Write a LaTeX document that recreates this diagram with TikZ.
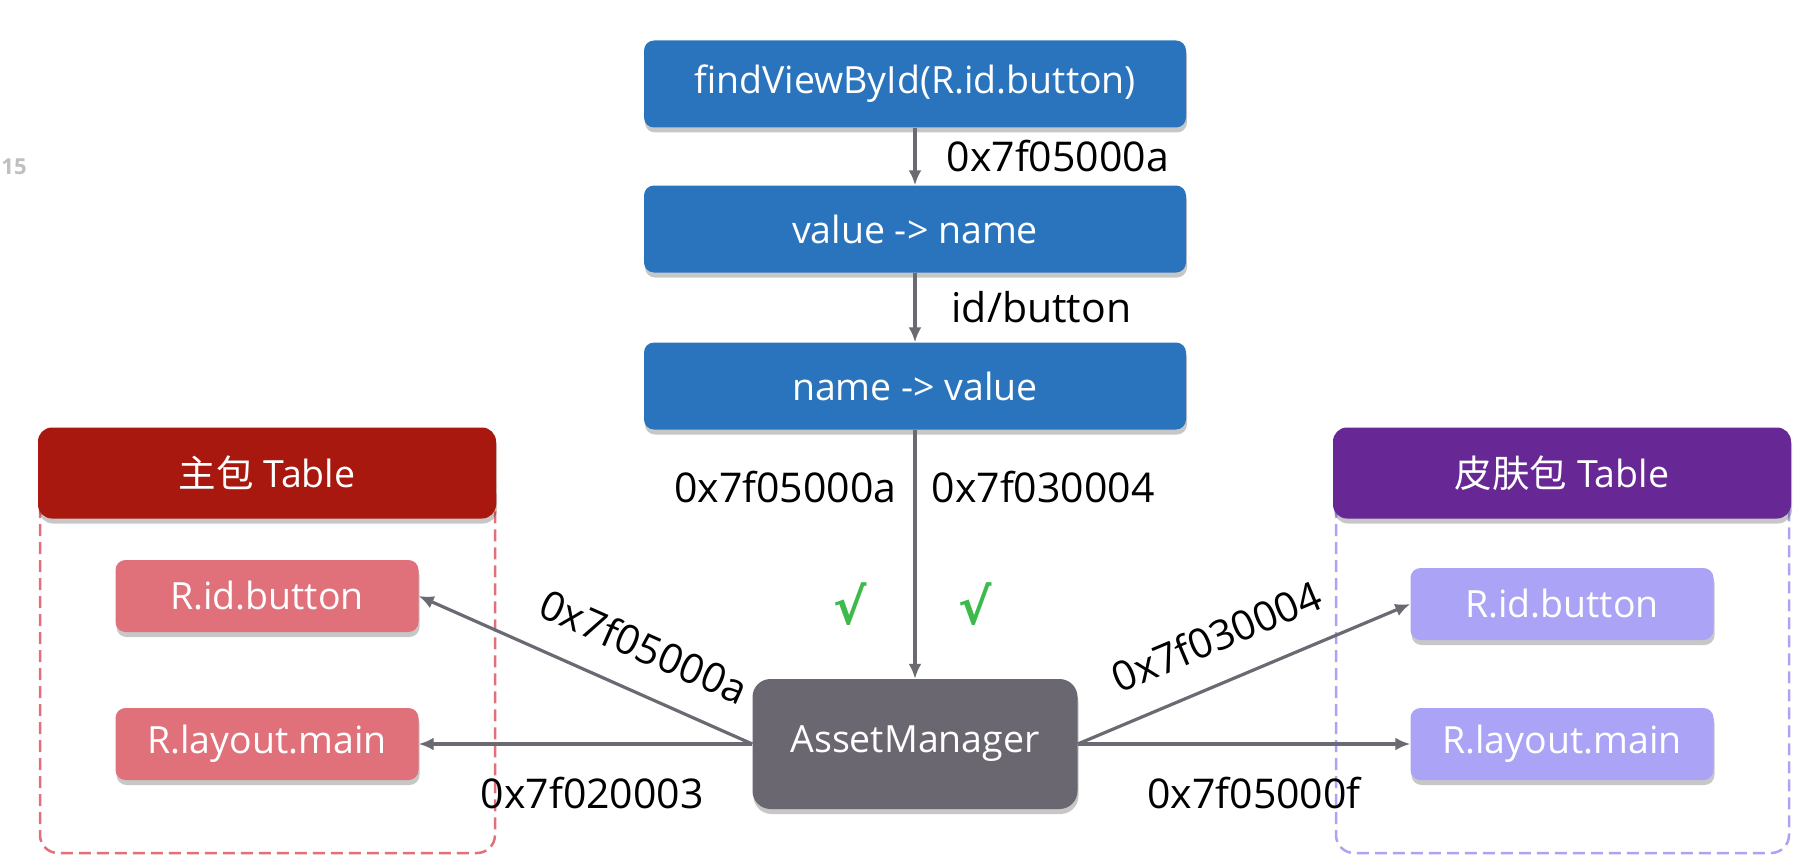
\documentclass[tikz,border=0pt]{standalone}
\usepackage{fontspec}
\setmainfont{Open Sans}
\newfontfamily\cjk{Noto Sans CJK SC}
\newfontfamily\symfont{DejaVu Sans}
\usetikzlibrary{arrows.meta,positioning,shadows}
\definecolor{FlowBlue}{HTML}{2A74BE}
\definecolor{MainRed}{HTML}{A8180F}
\definecolor{MainPink}{HTML}{E0707A}
\definecolor{SkinPurple}{HTML}{672795}
\definecolor{SkinLilac}{HTML}{ABA4F6}
\definecolor{MgrGray}{HTML}{6A6771}
\definecolor{LineGray}{HTML}{696A72}
\definecolor{CheckGreen}{HTML}{3DBA4B}

\tikzset{
  bigtext/.style={font=\fontsize{37.5}{44}\selectfont},
  tagbox/.style={bigtext, text=white, rounded corners=10pt, inner sep=4pt,
    drop shadow={shadow xshift=1pt, shadow yshift=-5pt, opacity=.22, fill=black}},
  flowbox/.style={tagbox, fill=FlowBlue, minimum width=542pt, minimum height=87pt},
  headbox/.style={tagbox, rounded corners=14pt, minimum width=458pt, minimum height=91pt},
  itembox/.style={tagbox, minimum width=303pt, minimum height=72pt},
  mgrbox/.style={tagbox, fill=MgrGray, rounded corners=18pt, minimum width=325pt, minimum height=130pt},
  frame/.style={line width=2.5pt, rounded corners=18pt, dash pattern=on 12pt off 6pt},
  arrowline/.style={draw=LineGray, line width=3.2pt, -{Latex[length=15pt,width=13pt]}},
  hexlabel/.style={font=\fontsize{41}{48}\selectfont, text=black, inner sep=4pt},
  checkmark/.style={text=CheckGreen, font=\symfont\bfseries\fontsize{50}{56}\selectfont},
}

\begin{document}
\begin{tikzpicture}[x=1pt,y=-1pt]
  \useasboundingbox (0,0) rectangle (1814,864);
  \node[text=black!25, font=\bfseries\fontsize{22}{26}\selectfont] (slideno) at (14,167) {15};

  % lookup chain
  \node[flowbox] (find) at (915,84) {findViewById(R.id.button)};
  \node[flowbox] (v2n) at (915,229) {value -> name};
  \node[flowbox] (n2v) at (915,386) {name -> value};
  \node[mgrbox] (mgr) at (915,744) {AssetManager};

  % main package
  \draw[frame, MainPink] (40,470) rectangle (495,853);
  \node[headbox, fill=MainRed] (mainhead) at (267,473) {{\cjk 主包} Table};
  \node[itembox, fill=MainPink] (mainid) at (267,596) {R.id.button};
  \node[itembox, fill=MainPink] (mainlayout) at (267,744) {R.layout.main};

  % skin package
  \draw[frame, SkinLilac] (1336,470) rectangle (1789,853);
  \node[headbox, fill=SkinPurple] (skinhead) at (1562,473) {{\cjk 皮肤包} Table};
  \node[itembox, fill=SkinLilac] (skinid) at (1562,604) {R.id.button};
  \node[itembox, fill=SkinLilac] (skinlayout) at (1562,744) {R.layout.main};

  \draw[arrowline] (find) -- (v2n) node[hexlabel, midway, right=26pt] (hexa) {0x7f05000a};
  \draw[arrowline] (v2n) -- (n2v) node[hexlabel, midway, right=31pt] (idname) {id/button};
  \draw[arrowline] (n2v) -- (mgr)
    node[hexlabel, pos=.23, left=13pt] (hexb) {0x7f05000a}
    node[hexlabel, pos=.23, right=11pt] (hexc) {0x7f030004};
  \node[checkmark] (chkl) at (850,604) {√};
  \node[checkmark] (chkr) at (975,604) {√};

  \draw[arrowline] (mgr.west) -- (mainid.east)
    node[hexlabel, pos=.38, sloped, above=24pt] (hexd) {0x7f05000a};
  \draw[arrowline] (mgr.west) -- (mainlayout.east)
    node[hexlabel, pos=.48, below=28pt] (hexe) {0x7f020003};
  \draw[arrowline] (mgr.east) -- (skinid.west)
    node[hexlabel, pos=.47, sloped, above=24pt] (hexf) {0x7f030004};
  \draw[arrowline] (mgr.east) -- (skinlayout.west)
    node[hexlabel, pos=.53, below=28pt] (hexg) {0x7f05000f};
\end{tikzpicture}
\end{document}
